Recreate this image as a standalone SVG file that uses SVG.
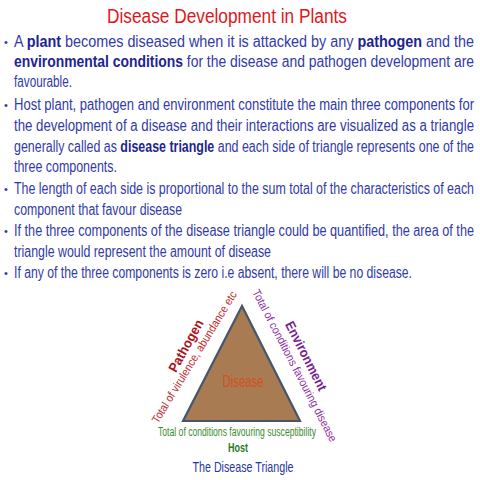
<svg xmlns="http://www.w3.org/2000/svg" width="480" height="480" viewBox="0 0 480 480">
<style>
text{font-family:"Liberation Sans",Arial,sans-serif}
.t{fill:#e0161b;font-size:20px}
.b{fill:#3239a8;font-size:16px}
.bb{fill:#1d2590;font-weight:bold}
.dot{fill:#3239a8;font-size:11px}
.s{font-size:11.5px}
.h{font-size:13.5px;font-weight:bold}
</style>
<rect width="480" height="480" fill="#ffffff"/>
<g id="title">
<text class="t" x="107" y="23" textLength="240" lengthAdjust="spacingAndGlyphs">Disease Development in Plants</text>
</g>
<g id="bullets">
<text class="dot" x="4" y="46">•</text>
<text class="dot" x="4" y="109">•</text>
<text class="dot" x="4" y="193">•</text>
<text class="dot" x="4" y="235">•</text>
<text class="dot" x="4" y="277">•</text>
<text class="b" x="14" y="47" textLength="460" lengthAdjust="spacingAndGlyphs">A  <tspan class="bb">plant</tspan>  becomes  diseased  when  it  is  attacked  by  any  <tspan class="bb">pathogen</tspan>  and  the</text>
<text class="b" x="14" y="67" textLength="460" lengthAdjust="spacingAndGlyphs"><tspan class="bb">environmental   conditions</tspan>   for   the   disease   and   pathogen   development   are</text>
<text class="b" x="14" y="87" textLength="58" lengthAdjust="spacingAndGlyphs">favourable.</text>
<text class="b" x="14" y="110" textLength="460" lengthAdjust="spacingAndGlyphs">Host plant, pathogen and environment constitute the main three components for</text>
<text class="b" x="14" y="131" textLength="460" lengthAdjust="spacingAndGlyphs">the  development  of  a  disease  and  their  interactions  are  visualized  as  a  triangle</text>
<text class="b" x="14" y="152" textLength="460" lengthAdjust="spacingAndGlyphs">generally called as <tspan class="bb">disease triangle</tspan> and each side of triangle represents one of the</text>
<text class="b" x="14" y="172" textLength="103" lengthAdjust="spacingAndGlyphs">three components.</text>
<text class="b" x="14" y="194" textLength="460" lengthAdjust="spacingAndGlyphs">The length of each side is proportional to the sum total of the characteristics of each</text>
<text class="b" x="14" y="215" textLength="168" lengthAdjust="spacingAndGlyphs">component that favour disease</text>
<text class="b" x="14" y="236" textLength="460" lengthAdjust="spacingAndGlyphs">If the three components of the disease triangle could be quantified, the area of the</text>
<text class="b" x="14" y="257" textLength="257" lengthAdjust="spacingAndGlyphs">triangle would represent the amount of disease</text>
<text class="b" x="14" y="278" textLength="398" lengthAdjust="spacingAndGlyphs">If any of the three components is zero i.e absent, there will be no disease.</text>
</g>
<g id="triangle">
<polygon points="242,306 183,421 300,421" fill="#a97b52" stroke="#46566b" stroke-width="2.2" stroke-linejoin="miter"/>
<text x="243" y="387" font-size="16" fill="#d4501e" text-anchor="middle" textLength="41" lengthAdjust="spacingAndGlyphs">Disease</text>
</g>
<g id="pathogen">
<text class="h" fill="#a8141c" text-anchor="middle" transform="translate(190,348) rotate(-61)" textLength="58" lengthAdjust="spacingAndGlyphs">Pathogen</text>
<text class="s" fill="#c22a30" transform="translate(158,424) rotate(-58.6)" textLength="152" lengthAdjust="spacingAndGlyphs">Total of virulence, abundance etc</text>
</g>
<g id="environment">
<text class="h" fill="#7b1f8f" text-anchor="middle" transform="translate(302,358) rotate(63)" textLength="76" lengthAdjust="spacingAndGlyphs">Environment</text>
<text class="s" fill="#8e2fa0" transform="translate(252,292) rotate(62.5)" textLength="170" lengthAdjust="spacingAndGlyphs">Total of conditions favouring disease</text>
</g>
<g id="host">
<text fill="#3b8c2c" x="158" y="436" font-size="12" textLength="158" lengthAdjust="spacingAndGlyphs">Total of conditions favouring susceptibility</text>
<text fill="#2b7a1c" x="238" y="452" font-size="13" font-weight="bold" text-anchor="middle" textLength="20" lengthAdjust="spacingAndGlyphs">Host</text>
</g>
<g id="caption">
<text fill="#2a35a8" x="243" y="472" font-size="15" text-anchor="middle" textLength="101" lengthAdjust="spacingAndGlyphs">The Disease Triangle</text>
</g>
</svg>
